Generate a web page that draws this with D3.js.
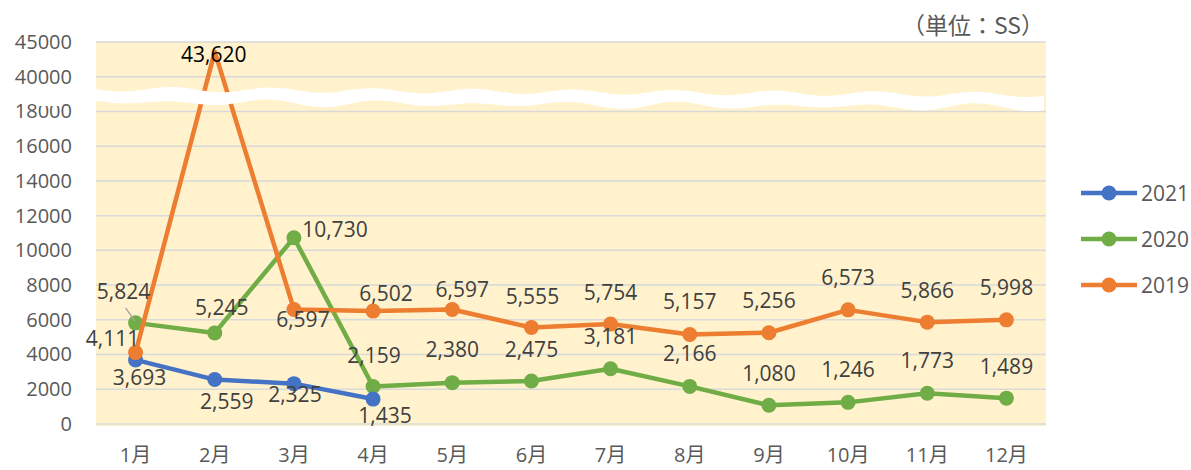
<html>
<head>
<meta charset="utf-8">
<script src="https://d3js.org/d3.v7.min.js"></script>
<style>
  body { margin: 0; background: #fff; }
  text { font-family: "Open Sans", "Noto Sans CJK JP", sans-serif; }
</style>
</head>
<body>
<div id="chart"></div>
<script>
// data
const months = ["1月","2月","3月","4月","5月","6月","7月","8月","9月","10月","11月","12月"];
const s2021 = [3693, 2559, 2325, 1435];
const s2020 = [5824, 5245, 10730, 2159, 2380, 2475, 3181, 2166, 1080, 1246, 1773, 1489];
const s2019 = [4111, 43620, 6597, 6502, 6597, 5555, 5754, 5157, 5256, 6573, 5866, 5998];
const yTicks = [0, 2000, 4000, 6000, 8000, 10000, 12000, 14000, 16000, 18000, 40000, 45000];
const unitLabel = "（単位：SS）";

// label placement (dx, dy from the marker), like the manual placement in the original
const off2021 = [[4,18],[12,22],[1,11],[12,16]];
const off2020 = [[-12,-31],[7,-25],[41,-8],[1,-31],[0,-33],[0,-32],[0,-32],[0,-33],[0,-32],[0,-33],[0,-33],[0,-32]];
const off2019 = [[-23,-14],[-1,3],[9,10],[13,-18],[10,-20],[1,-31],[0,-32],[0,-33],[0,-32],[0,-32],[0,-32],[0,-32]];

const series = [
  {name: "2020", values: s2020, color: "#70AD47", off: off2020},
  {name: "2021", values: s2021, color: "#4472C4", off: off2021},
  {name: "2019", values: s2019, color: "#ED7D31", off: off2019}
];
const legendOrder = ["2021", "2020", "2019"];

const W = 1191, H = 470;
const pLeft = 96, pRight = 1046, pTop = 42, pBottom = 424;
const step = (pBottom - pTop) / 11;

const svg = d3.select("#chart").append("svg").attr("width", W).attr("height", H);

const x = d3.scaleBand().domain(months).range([pLeft, pRight]);
// broken axis: 0..18000 linear, then 40000 / 45000 one step each
const y = d3.scaleLinear()
  .domain([0, 18000, 40000, 45000])
  .range([pBottom, pBottom - 9 * step, pBottom - 10 * step, pTop]);
const cx = m => x(m) + x.bandwidth() / 2;

svg.append("rect").attr("x", pLeft).attr("y", pTop).attr("width", pRight - pLeft).attr("height", pBottom - pTop + 2)
  .attr("fill", "#FFF2CC");

svg.append("g").selectAll("line").data(yTicks).join("line")
  .attr("x1", pLeft).attr("x2", pRight)
  .attr("y1", d => y(d)).attr("y2", d => y(d))
  .attr("stroke", "#D9D9D9").attr("stroke-width", 1.5);

const yAxis = svg.append("g").attr("transform", `translate(${pLeft},0)`)
  .call(d3.axisLeft(y).tickValues(yTicks).tickFormat(d3.format("d")).tickSize(0).tickPadding(24));
yAxis.select(".domain").remove();
yAxis.selectAll("text").attr("font-size", 20).attr("fill", "#595959")
  .style("font-family", "'Open Sans', sans-serif");

const xAxis = svg.append("g").attr("transform", `translate(0,${pBottom})`)
  .call(d3.axisBottom(x).tickSize(0).tickPadding(24));
xAxis.select(".domain").remove();
xAxis.selectAll("text").attr("font-size", 20).attr("fill", "#595959")
  .style("font-family", "'Open Sans', 'Noto Sans CJK JP', sans-serif");

const line = d3.line().x((d, i) => cx(months[i])).y(d => y(d));

series.forEach(s => {
  svg.append("path").datum(s.values).attr("d", line)
    .attr("fill", "none").attr("stroke", s.color).attr("stroke-width", 4.5)
    .attr("stroke-linejoin", "round").attr("stroke-linecap", "round");
  svg.append("g").selectAll("circle").data(s.values).join("circle")
    .attr("cx", (d, i) => cx(months[i])).attr("cy", d => y(d)).attr("r", 7.5)
    .attr("fill", s.color)
    .attr("display", d => d > 18000 ? "none" : null);
});

// white wavy break band
const waveTop = [];
for (let px = pLeft - 2; px <= pRight; px += 5) {
  waveTop.push([px, 89 + (px - pLeft) * 0.006 + 2.5 * Math.sin((px - pLeft) / 16)]);
}
const waveBot = waveTop.map(p => [p[0], p[1] + 13 + 1.5 * Math.sin(p[0] / 23)]).reverse();
svg.append("path")
  .attr("d", d3.line().curve(d3.curveBasis)(waveTop) + "L" + d3.line().curve(d3.curveBasis)(waveBot).slice(1) + "Z")
  .attr("fill", "#fff");
svg.append("rect").attr("x", 38).attr("y", 98).attr("width", 23).attr("height", 8).attr("fill", "#fff");

// data labels
series.forEach(s => {
  svg.append("g").selectAll("text").data(s.values).join("text")
    .attr("x", (d, i) => cx(months[i]) + s.off[i][0])
    .attr("y", (d, i) => y(d) + s.off[i][1])
    .attr("dy", "0.36em")
    .attr("text-anchor", "middle")
    .attr("font-size", 21)
    .attr("fill", d => d > 18000 ? "#000" : "#404040")
    .text(d3.format(","));
});

// leader line for 2020 Jan label
svg.append("line")
  .attr("x1", cx(months[0]) - 10).attr("y1", y(s2020[0]) - 15)
  .attr("x2", cx(months[0]) - 1).attr("y2", y(s2020[0]) - 2)
  .attr("stroke", "#A6A6A6").attr("stroke-width", 1.5);

svg.append("text").attr("x", 1044).attr("y", 26).attr("dy", "0.36em")
  .attr("text-anchor", "end").attr("font-size", 23).attr("fill", "#595959")
  .style("font-family", "'Noto Sans CJK JP', sans-serif")
  .text(unitLabel);

// legend
const lg = svg.append("g").attr("transform", "translate(1081,193)");
legendOrder.forEach((n, i) => {
  const s = series.find(d => d.name === n);
  const g = lg.append("g").attr("transform", `translate(0,${i * 46})`);
  g.append("line").attr("x1", 0).attr("x2", 56).attr("stroke", s.color).attr("stroke-width", 4.5);
  g.append("circle").attr("cx", 28).attr("r", 7.5).attr("fill", s.color);
  g.append("text").attr("x", 60).attr("dy", "0.36em").attr("font-size", 21).attr("fill", "#595959").text(n);
});
</script>
</body>
</html>
